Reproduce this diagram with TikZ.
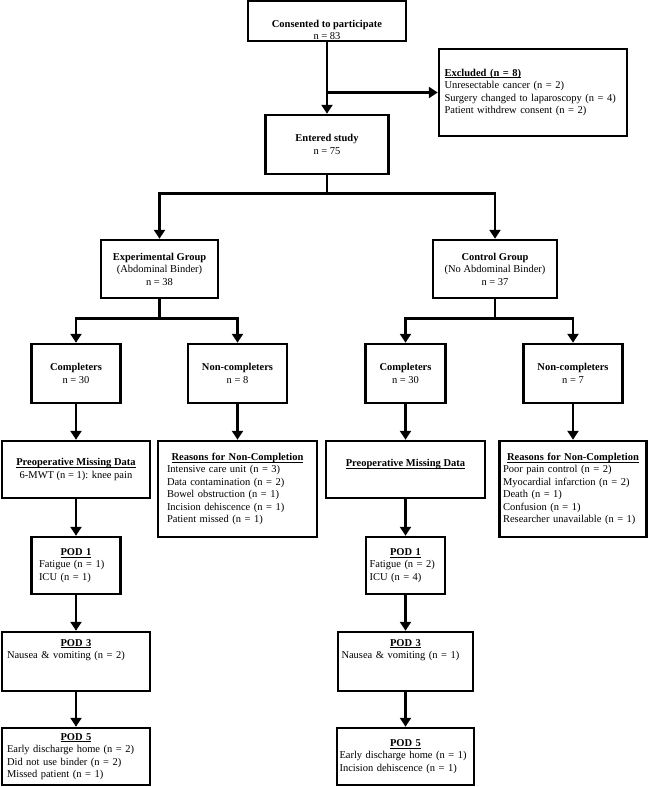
\documentclass[tikz,border=0pt]{standalone}
\usepackage{fontspec}
\setmainfont{Liberation Serif}
\usetikzlibrary{arrows.meta}
\newcommand{\ulb}[1]{\underline{\raisebox{0pt}[\height][0pt]{\textbf{#1}}}}
\newcommand{\hd}[1]{\hfill\ulb{#1}\hfill\null}
\newcommand{\lift}[1]{\rule{0pt}{#1}}

\begin{document}
\begin{tikzpicture}[x=1pt,y=-1pt,font=\fontsize{10.5}{12.5}\selectfont,
  box/.style={draw=black,line width=2.5pt,inner sep=1pt,align=center},
  lbox/.style={box,align=left},
  arr/.style={-{Triangle[width=11pt,length=9pt]},line width=2.5pt}]
\useasboundingbox (0,0) rectangle (648,787);

% ---------------- enrolment
\node[box,minimum width=158,minimum height=38] (consent) at (327,21)
  {\lift{25pt}\textbf{Consented to participate}\\ n = 83};
\node[lbox,minimum width=188,minimum height=87,text width=177] (excl) at (533,92.5)
  {\ulb{Excluded (n = 8)}\\ Unresectable cancer (n = 2)\\
   Surgery changed to laparoscopy (n = 4)\\ Patient withdrew consent (n = 2)};
\node[box,minimum width=123,minimum height=59] (entered) at (327,144.5)
  {\textbf{Entered study}\\ n = 75};

% ---------------- the two groups
\node[box,minimum width=117,minimum height=58] (expgrp) at (159.5,269)
  {\textbf{Experimental Group}\\ (Abdominal Binder)\\ n = 38};
\node[box,minimum width=124,minimum height=58] (ctlgrp) at (495,269)
  {\textbf{Control Group}\\ (No Abdominal Binder)\\ n = 37};

% ---------------- experimental arm
\node[box,minimum width=89,minimum height=59] (compL) at (76,373.5)
  {\textbf{Completers}\\ n = 30};
\node[box,minimum width=99,minimum height=59] (noncL) at (237.5,373.5)
  {\textbf{Non-completers}\\ n = 8};
\node[box,minimum width=148,minimum height=57] (preL) at (76,469.5)
  {\ulb{Preoperative Missing Data}\\ 6-MWT (n = 1): knee pain};
\node[lbox,minimum width=159,minimum height=96,text width=141] (whyL) at (237.5,489)
  {\hd{Reasons for Non-Completion}\\ Intensive care unit (n = 3)\\
   Data contamination (n = 2)\\ Bowel obstruction (n = 1)\\
   Incision dehiscence (n = 1)\\ Patient missed (n = 1)};
\node[lbox,minimum width=89,minimum height=57,text width=74] (pod1L) at (76,565.5)
  {\hd{POD 1}\\ Fatigue (n = 1)\\ ICU (n = 1)};
\node[lbox,minimum width=148,minimum height=59,text width=138] (pod3L) at (76,661.5)
  {\hd{POD 3}\\ Nausea \& vomiting (n = 2)\\ ~\\ ~};
\node[lbox,minimum width=148,minimum height=57,text width=138] (pod5L) at (76,756.5)
  {\hd{POD 5}\\ Early discharge home (n = 2)\\ Did not use binder (n = 2)\\
   Missed patient (n = 1)};

% ---------------- control arm
\node[box,minimum width=80,minimum height=59] (compR) at (405.5,373.5)
  {\textbf{Completers}\\ n = 30};
\node[box,minimum width=99,minimum height=59] (noncR) at (573,373.5)
  {\textbf{Non-completers}\\ n = 7};
\node[box,minimum width=159,minimum height=57] (preR) at (405.5,469.5)
  {\ulb{Preoperative Missing Data}\\ ~};
\node[lbox,minimum width=147,minimum height=96,text width=140] (whyR) at (573,489)
  {\hd{Reasons for Non-Completion}\\ Poor pain control (n = 2)\\
   Myocardial infarction (n = 2)\\ Death (n = 1)\\ Confusion (n = 1)\\
   Researcher unavailable (n = 1)};
\node[lbox,minimum width=79,minimum height=57,text width=72] (pod1R) at (405.5,565.5)
  {\hd{POD 1}\\ Fatigue (n = 2)\\ ICU (n = 4)};
\node[lbox,minimum width=135,minimum height=59,text width=128] (pod3R) at (405.5,661.5)
  {\hd{POD 3}\\ Nausea \& vomiting (n = 1)\\ ~\\ ~};
\node[lbox,minimum width=137,minimum height=57,text width=132] (pod5R) at (405.5,756.5)
  {\hd{POD 5}\\ Early discharge home (n = 1)\\ Incision dehiscence (n = 1)};

% ---------------- connectors
\coordinate (brk) at (consent.south |- excl.west);
\draw[arr] (consent.south) -- (entered.north);
\draw[arr] (brk) -- (excl.west);
\draw[arr] (entered.south) -- ++(0,18) -| (expgrp.north);
\draw[arr] (entered.south) -- ++(0,18) -| (ctlgrp.north);

\draw[arr] (expgrp.south) -- ++(0,19) -| (compL.north);
\draw[arr] (expgrp.south) -- ++(0,19) -| (noncL.north);
\draw[arr] (ctlgrp.south) -- ++(0,19) -| (compR.north);
\draw[arr] (ctlgrp.south) -- ++(0,19) -| (noncR.north);

\draw[arr] (compL) -- (preL);
\draw[arr] (preL) -- (pod1L);
\draw[arr] (pod1L) -- (pod3L);
\draw[arr] (pod3L) -- (pod5L);
\draw[arr] (noncL) -- (whyL);

\draw[arr] (compR) -- (preR);
\draw[arr] (preR) -- (pod1R);
\draw[arr] (pod1R) -- (pod3R);
\draw[arr] (pod3R) -- (pod5R);
\draw[arr] (noncR) -- (whyR);
\end{tikzpicture}
\end{document}
